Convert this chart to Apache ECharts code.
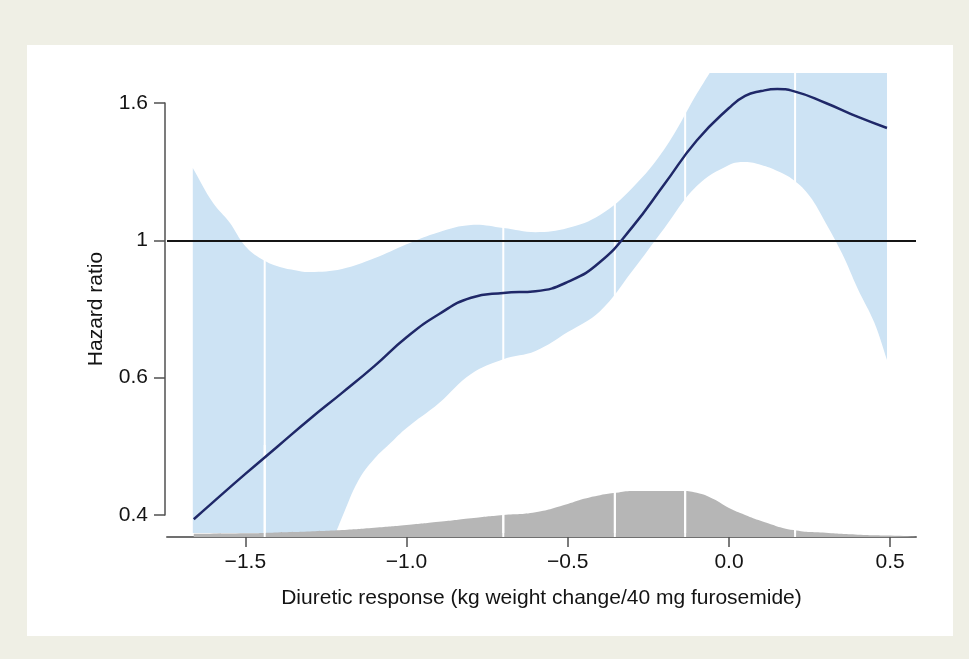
<!DOCTYPE html>
<html>
<head>
<meta charset="utf-8">
<script src="https://cdn.jsdelivr.net/npm/echarts@6/dist/echarts.min.js"></script>
<style>
  html, body { margin: 0; padding: 0; background: #efefe5; }
  #chart { width: 969px; height: 659px; }
</style>
</head>
<body>
<div id="chart"></div>
<script>
// Axis ticks
const xTicks = [-1.5, -1.0, -0.5, 0.0, 0.5];
const xTickLabels = ['\u22121.5', '\u22121.0', '\u22120.5', '0.0', '0.5'];
const yTickValues = [0.4, 0.6, 1, 1.6];
const yTickLabels = ['0.4', '0.6', '1', '1.6'];

// Spline estimate of the hazard ratio
const curveX = [-1.66, -1.6, -1.5, -1.4, -1.3, -1.2, -1.1, -1.0, -0.9, -0.8, -0.7, -0.6, -0.5,
                -0.4, -0.3, -0.2, -0.1, 0.0, 0.05, 0.1, 0.15, 0.2, 0.3, 0.4, 0.49];
const curveHR = [0.394, 0.419, 0.460, 0.500, 0.540, 0.578, 0.634, 0.718, 0.785, 0.833, 0.847, 0.852, 0.879,
                 0.937, 1.058, 1.246, 1.436, 1.578, 1.631, 1.652, 1.661, 1.652, 1.600, 1.539, 1.491];

// 95% confidence band (upper and lower edges, limited to the plotting range)
const upperX = [-1.663, -1.6, -1.55, -1.5, -1.45, -1.4, -1.35, -1.3, -1.2, -1.1, -1.0, -0.9, -0.8,
                -0.7, -0.6, -0.5, -0.4, -0.3, -0.2, -0.1, -0.06, 0.49];
const upperHR = [1.316, 1.163, 1.080, 0.983, 0.946, 0.925, 0.914, 0.908, 0.917, 0.948, 0.989, 1.036, 1.067,
                 1.054, 1.036, 1.054, 1.111, 1.229, 1.399, 1.640, 1.731, 1.731];
const lowerX = [-1.663, -1.22, -1.2, -1.15, -1.1, -1.05, -1.0, -0.9, -0.8, -0.7, -0.6, -0.5, -0.4, -0.3,
                -0.2, -0.1, 0.0, 0.05, 0.1, 0.15, 0.2, 0.25, 0.3, 0.35, 0.4, 0.45, 0.49];
const lowerHR = [0.374, 0.374, 0.397, 0.450, 0.482, 0.505, 0.527, 0.563, 0.611, 0.654, 0.678, 0.733, 0.794, 0.911,
                 1.054, 1.237, 1.329, 1.342, 1.329, 1.303, 1.264, 1.194, 1.076, 0.963, 0.858, 0.762, 0.652];

// Distribution of diuretic response (relative density)
const densX = [-1.66, -1.5, -1.4, -1.3, -1.2, -1.1, -1.0, -0.9, -0.8, -0.7, -0.6, -0.5, -0.45, -0.4, -0.35,
               -0.3, -0.2, -0.15, -0.1, -0.05, 0.0, 0.05, 0.1, 0.2, 0.3, 0.4, 0.5, 0.58];
const densVal = [0.07, 0.08, 0.10, 0.12, 0.15, 0.20, 0.26, 0.33, 0.41, 0.48, 0.54, 0.72, 0.83, 0.91, 0.96,
                 1.00, 1.00, 1.00, 0.96, 0.83, 0.63, 0.48, 0.35, 0.15, 0.09, 0.05, 0.03, 0.01];

// Spline knot positions
const knots = [-1.44, -0.70, -0.354, -0.136, 0.205];

const REF_HR = 1;
const X_MIN = -1.743, X_MAX = 0.58;
const Y_MIN_HR = 0.374, Y_MAX_HR = 1.731;

// Hazard ratio -> vertical position on the evenly spaced tick scale
function toAxis(hr) {
  const v = yTickValues;
  let i = 0;
  while (i < v.length - 2 && hr > v[i + 1]) i++;
  return i + (hr - v[i]) / (v[i + 1] - v[i]);
}

const FONT = '"Liberation Sans", Arial, sans-serif';
const TEXT = '#141414';
const FS = 21;

function knotRenderer(params, api) {
  const x = api.coord([api.value(0), 0])[0];
  const cs = params.coordSys;
  return {
    type: 'line',
    shape: { x1: x, y1: cs.y, x2: x, y2: cs.y + cs.height },
    style: { stroke: '#ffffff', lineWidth: 2 }
  };
}

// Band edge points; ends and places where an edge meets the plotting limit
// are doubled so the smoothed outline keeps a sharp corner there.
function edgePoints(api, xs, hrs, out) {
  const atLimit = hr => hr >= Y_MAX_HR || hr <= Y_MIN_HR;
  const n = xs.length;
  for (let i = 0; i < n; i++) {
    const p = api.coord([xs[i], toAxis(hrs[i])]);
    const c = atLimit(hrs[i]);
    const corner = i === 0 || i === n - 1 ||
      c !== atLimit(hrs[i - 1]) || c !== atLimit(hrs[i + 1]);
    out.push(p);
    if (corner) out.push(p.slice());
  }
  return out;
}

const chart = echarts.init(document.getElementById('chart'));
chart.setOption({
  animation: false,
  backgroundColor: '#efefe5',
  textStyle: { fontFamily: FONT },
  graphic: [{
    type: 'rect', z: -10, silent: true,
    shape: { x: 27, y: 45, width: 926, height: 591 },
    style: { fill: '#ffffff' }
  }],
  grid: [
    { left: 167, top: 73, width: 749, height: 460 },
    { left: 167, top: 445, width: 749, height: 92 },
    { left: 165, top: 103, width: 1, height: 412 }
  ],
  xAxis: [
    { gridIndex: 0, type: 'value', min: X_MIN, max: X_MAX, show: false },
    {
      gridIndex: 1, type: 'value', min: X_MIN, max: X_MAX,
      axisLine: { show: true, lineStyle: { color: '#707070', width: 2 } },
      axisTick: { show: true, customValues: xTicks, length: 10, lineStyle: { color: '#505050', width: 1.5 } },
      axisLabel: {
        customValues: xTicks, margin: 15, fontSize: FS, color: TEXT, fontFamily: FONT,
        formatter: v => xTickLabels[xTicks.findIndex(t => Math.abs(t - v) < 1e-6)] ?? ''
      },
      splitLine: { show: false },
      name: 'Diuretic response (kg weight change/40 mg furosemide)',
      nameLocation: 'middle', nameGap: 51,
      nameTextStyle: { fontSize: FS, color: TEXT, fontFamily: FONT }
    },
    { gridIndex: 2, type: 'value', min: 0, max: 1, show: false }
  ],
  yAxis: [
    { gridIndex: 0, type: 'value', min: toAxis(Y_MIN_HR), max: toAxis(Y_MAX_HR), show: false },
    { gridIndex: 1, type: 'value', min: 0, max: 2, show: false },
    {
      gridIndex: 2, type: 'value', min: 0, max: yTickValues.length - 1, interval: 1,
      axisLine: { show: true, lineStyle: { color: '#505050', width: 1.5 } },
      axisTick: { show: true, length: 11, lineStyle: { color: '#505050', width: 1.5 } },
      axisLabel: {
        margin: 17, fontSize: FS, color: TEXT, fontFamily: FONT,
        formatter: v => yTickLabels[Math.round(v)]
      },
      splitLine: { show: false },
      name: 'Hazard ratio', nameLocation: 'middle', nameGap: 58,
      nameTextStyle: { fontSize: FS, color: TEXT, fontFamily: FONT }
    }
  ],
  series: [
    {
      name: 'confidence band', type: 'custom', xAxisIndex: 0, yAxisIndex: 0,
      clip: true, silent: true, z: 1,
      data: [[upperX[0], toAxis(upperHR[0])]],
      renderItem: (params, api) => {
        const pts = edgePoints(api, upperX, upperHR, []);
        const low = edgePoints(api, lowerX, lowerHR, []).reverse();
        return {
          type: 'polygon',
          shape: { points: pts.concat(low), smooth: 0.4 },
          style: { fill: '#cde3f4' }
        };
      }
    },
    {
      name: 'knots band', type: 'custom', xAxisIndex: 0, yAxisIndex: 0,
      silent: true, z: 2,
      data: knots.map(k => [k, 0]),
      renderItem: knotRenderer
    },
    {
      name: 'density', type: 'line', xAxisIndex: 1, yAxisIndex: 1,
      smooth: true, symbol: 'none', silent: true, z: 1,
      data: densX.map((x, i) => [x, densVal[i]]),
      lineStyle: { width: 0 },
      areaStyle: { color: '#b6b6b6', opacity: 1 }
    },
    {
      name: 'knots density', type: 'custom', xAxisIndex: 1, yAxisIndex: 1,
      silent: true, z: 2,
      data: knots.map(k => [k, 0]),
      renderItem: knotRenderer
    },
    {
      name: 'hazard ratio', type: 'line', xAxisIndex: 0, yAxisIndex: 0,
      smooth: true, symbol: 'none', z: 5,
      data: curveX.map((x, i) => [x, toAxis(curveHR[i])]),
      lineStyle: { color: '#1f2868', width: 2.5 },
      markLine: {
        silent: true, symbol: ['none', 'none'],
        label: { show: false },
        lineStyle: { color: '#151515', width: 2, type: 'solid' },
        data: [{ yAxis: toAxis(REF_HR) }]
      }
    }
  ]
});
</script>
</body>
</html>
